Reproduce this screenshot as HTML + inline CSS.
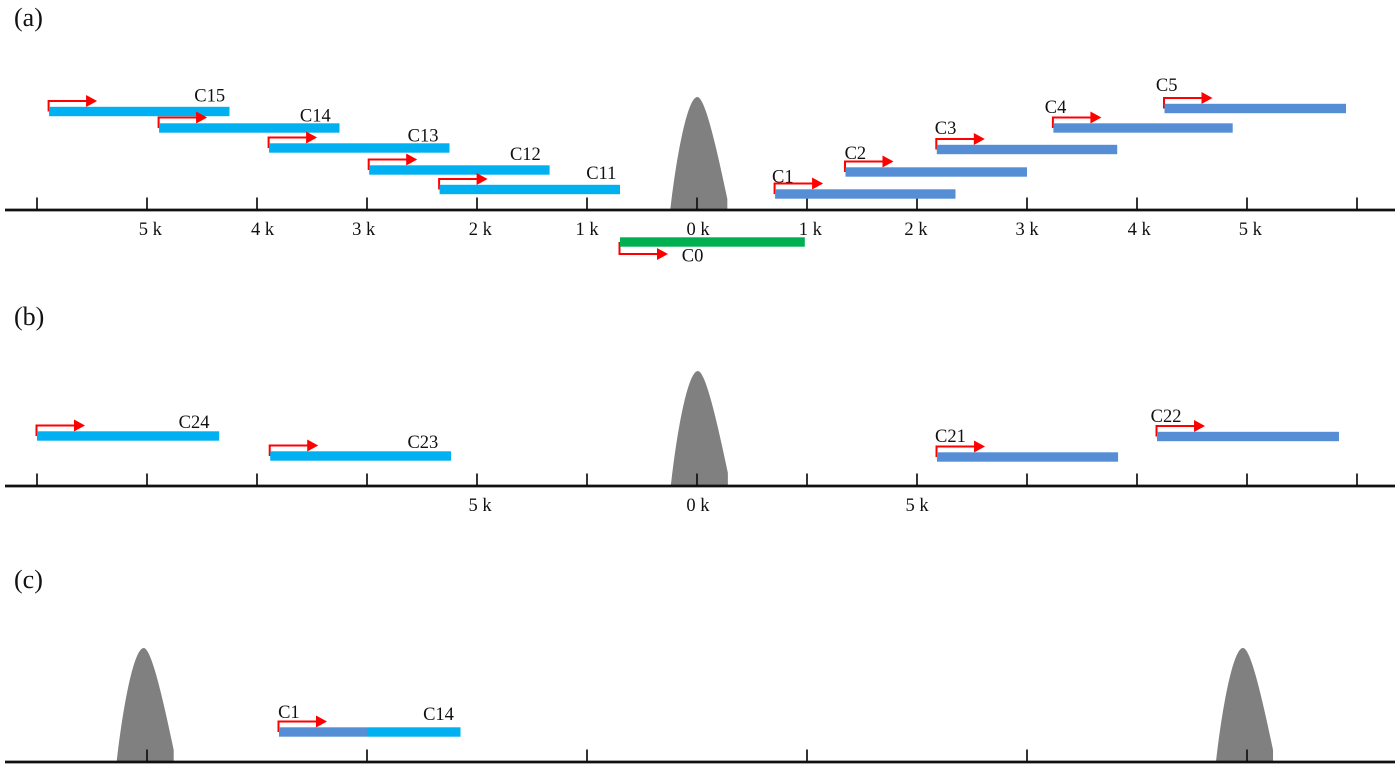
<!DOCTYPE html>
<html>
<head>
<meta charset="utf-8">
<title>Gene constructs</title>
<style>
html,body{margin:0;padding:0;background:#fff;width:1400px;height:769px;overflow:hidden}
svg{display:block}
text{font-family:"Liberation Serif",serif;fill:#111}
</style>
</head>
<body>
<svg id="chart" xmlns="http://www.w3.org/2000/svg" width="1400" height="769" viewBox="0 0 1400 769"></svg>
<script>
// Panel (a)
const aNames = ['C15','C14','C13','C12','C11','C1','C2','C3','C4','C5','C0'];
const aStarts = [-5.89,-4.89,-3.89,-2.98,-2.34,0.71,1.35,2.18,3.24,4.25,-0.70];
const aEnds = [-4.25,-3.25,-2.25,-1.34,-0.70,2.35,3.00,3.82,4.87,5.90,0.98];
const aLevels = [98.5,82,62,40,20.5,16,38,60.5,82,101.5,-32];
const aLabelK = [-4.43,-3.47,-2.49,-1.56,-0.87,0.78,1.44,2.26,3.26,4.27,-0.04];
const aLabelLevels = [108.5,88.5,68.5,50,31,27.5,51,76,97,119,-51.5];
const aKinds = ['up','up','up','up','up','down','down','down','down','down','core'];
const aArrows = [1,1,1,1,1,1,1,1,1,1,-1];
const aTicks = [-6,-5,-4,-3,-2,-1,0,1,2,3,4,5,6];
const aTickLabels = [5,4,3,2,1,0,1,2,3,4,5];
const aTickLabelAt = [-4.97,-3.95,-3.03,-1.97,-1,0.01,1.03,1.99,3,4.02,5.03];
const aPeaks = [0.003];
const aPeakHeights = [113];
// Panel (b)
const bNames = ['C24','C23','C21','C22'];
const bStarts = [-15,-9.70,5.455,10.455];
const bEnds = [-10.86,-5.59,9.57,14.59];
const bLevels = [50,30,29,49.5];
const bLabelK = [-11.43,-6.23,5.76,10.66];
const bLabelLevels = [58,38,44,64];
const bKinds = ['up','up','down','down'];
const bArrows = [1,1,1,1];
const bTicks = [-15,-12.5,-10,-7.5,-5,-2.5,0,2.5,5,7.5,10,12.5,15];
const bTickLabels = [5,0,5];
const bTickLabelAt = [-4.93,0.02,5];
const bPeaks = [0.02];
const bPeakHeights = [115];
// Panel (c)
const cNames = ['C1','C14'];
const cStarts = [-3.8,-3];
const cEnds = [-3,-2.15];
const cLevels = [30,30];
const cLabelK = [-3.71,-2.35];
const cLabelLevels = [44,42];
const cKinds = ['down','up'];
const cArrows = [1,0];
const cTicks = [-5,-3,-1,1,3,5];
const cTickLabels = [];
const cTickLabelAt = [];
const cPeaks = [-5.03,4.964];
const cPeakHeights = [114,114];

const COLORS = {up:'#00b0f0',down:'#558ed5',core:'#00b050'};
const NS = 'http://www.w3.org/2000/svg';
const svg = document.getElementById('chart');

function make(tag, attrs, parent, text){
  const el = document.createElementNS(NS, tag);
  for (const k in attrs) el.setAttribute(k, attrs[k]);
  if (text !== undefined) el.textContent = text;
  parent.appendChild(el);
  return el;
}

function drawPanel(p){
  const xAxis = k => 697 + p.pxPerK * k;
  const yAxis = level => p.base - level;

  const group = make('g', {}, svg);
  
  

  const title = make('text', {x:14, y:p.titleY, 'font-size':26}, group, '(' + p.id + ')');
  
  

  p.peaks.forEach((k, i) => {
    const c = xAxis(k), b = p.base - 1, t = p.base - p.peakHeights[i];
    const d = 'M' + (c-27) + ' ' + b +
      ' C' + (c-21) + ' ' + (t+60) + ' ' + (c-10) + ' ' + t + ' ' + c + ' ' + t +
      ' C' + (c+8) + ' ' + t + ' ' + (c+20) + ' ' + (t+55) + ' ' + (c+30) + ' ' + (t+102) +
      ' L' + (c+30) + ' ' + b + ' Z';
    const peak = make('path', {d:d, fill:'#808080'}, group);
    
    
  });

  const axis = make('line', {x1:p.axisFrom, x2:p.axisTo, y1:p.base, y2:p.base, stroke:'#111', 'stroke-width':2.7}, group);
  
  

  p.ticks.forEach(k => {
    const t = make('line', {x1:xAxis(k), x2:xAxis(k), y1:p.base-12.5, y2:p.base, stroke:'#111', 'stroke-width':1.7}, group);
    
    
  });

  p.tickLabels.forEach((value, i) => {
    const t = make('text', {x:xAxis(p.tickLabelAt[i] * p.labelScale), y:p.base+25, 'font-size':18.5, 'text-anchor':'middle'}, group, value + ' k');
    
    
  });

  p.names.forEach((name, i) => {
    const x0 = xAxis(p.starts[i]), x1 = xAxis(p.ends[i]), yc = yAxis(p.levels[i]);

    if (p.arrows[i] !== 0) {
      const dir = p.arrows[i];
      const ay = yc - (dir > 0 ? 10.5 : -12);
      const ax = x0 - 0.5;
      const arrow = make('g', {}, group);
      
      
      make('path', {d:'M' + ax + ' ' + yc + ' V' + ay + ' H' + (ax+38), fill:'none', stroke:'#ff0000', 'stroke-width':2}, arrow);
      make('polygon', {points:(ax+37.5) + ',' + (ay-6) + ' ' + (ax+48.5) + ',' + ay + ' ' + (ax+37.5) + ',' + (ay+6), fill:'#ff0000'}, arrow);
    }

    const bar = make('rect', {x:x0, y:yc-4.7, width:x1-x0, height:9.4, fill:COLORS[p.kinds[i]]}, group);
    
    

    const label = make('text', {x:xAxis(p.labelK[i]), y:yAxis(p.labelLevels[i]), 'font-size':18.5, 'text-anchor':'middle'}, group, name);
    
    
  });
}

drawPanel({id:'a', base:210, titleY:26, pxPerK:110, labelScale:1, axisFrom:5, axisTo:1395,
  names:aNames, starts:aStarts, ends:aEnds, levels:aLevels, labelK:aLabelK, labelLevels:aLabelLevels,
  kinds:aKinds, arrows:aArrows, ticks:aTicks, tickLabels:aTickLabels, tickLabelAt:aTickLabelAt, peaks:aPeaks, peakHeights:aPeakHeights});
drawPanel({id:'b', base:486, titleY:325, pxPerK:44, labelScale:1, axisFrom:5, axisTo:1395,
  names:bNames, starts:bStarts, ends:bEnds, levels:bLevels, labelK:bLabelK, labelLevels:bLabelLevels,
  kinds:bKinds, arrows:bArrows, ticks:bTicks, tickLabels:bTickLabels, tickLabelAt:bTickLabelAt, peaks:bPeaks, peakHeights:bPeakHeights});
drawPanel({id:'c', base:762, titleY:588, pxPerK:110, labelScale:1, axisFrom:5, axisTo:1395,
  names:cNames, starts:cStarts, ends:cEnds, levels:cLevels, labelK:cLabelK, labelLevels:cLabelLevels,
  kinds:cKinds, arrows:cArrows, ticks:cTicks, tickLabels:cTickLabels, tickLabelAt:cTickLabelAt, peaks:cPeaks, peakHeights:cPeakHeights});
</script>
</body>
</html>
